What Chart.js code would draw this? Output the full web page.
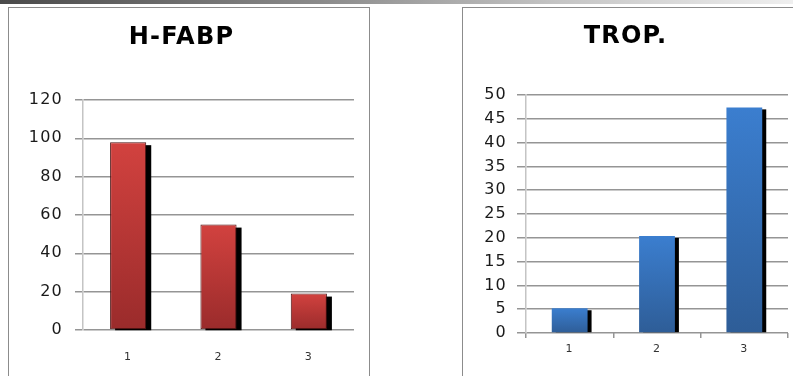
<!DOCTYPE html>
<html>
<head>
<meta charset="utf-8">
<script src="https://cdn.jsdelivr.net/npm/chart.js@4.4.1/dist/chart.umd.min.js"></script>
<style>
  html, body { margin:0; padding:0; background:#fff; width:793px; height:376px; overflow:hidden; position:relative; }
  #topbar { position:absolute; left:0; top:0; width:793px; height:4px;
    background:linear-gradient(to right, #4a4a4a 0%, #8a8a8a 40%, #c4c4c4 70%, #efefef 100%); }
  .box { position:absolute; border:1px solid #8c8c8c; background:#fff; }
  #boxL { left:8px; top:7px; width:360px; height:380px; }
  #boxR { left:462px; top:7px; width:340px; height:380px; }
  .wrap { position:absolute; }
  #wrapL { left:9px; top:8px; width:360px; height:368px; }
  #wrapR { left:463px; top:8px; width:330px; height:368px; }
</style>
</head>
<body>
<div id="topbar"></div>
<div class="box" id="boxL"></div>
<div class="box" id="boxR"></div>
<div class="wrap" id="wrapL"><canvas id="cL" width="360" height="368"></canvas></div>
<div class="wrap" id="wrapR"><canvas id="cR" width="330" height="368"></canvas></div>
<script>
// ---- data ----
const categories = ['1', '2', '3'];
const hfabpValues = [98, 55, 19];
const tropValues = [5.2, 20.4, 47.4];
const hfabpTicks = [0, 20, 40, 60, 80, 100, 120];
const tropTicks = [0, 5, 10, 15, 20, 25, 30, 35, 40, 45, 50];
const titles = ['H-FABP', 'TROP.'];

const FONT = "'DejaVu Sans', 'Liberation Sans', sans-serif";

const shadowPlugin = {
  id: 'barShadow',
  beforeDatasetDraw(chart, args, opts) {
    const ctx = chart.ctx;
    ctx.save();
    ctx.fillStyle = '#000';
    args.meta.data.forEach(el => {
      const p = el.getProps(['x', 'y', 'base', 'width'], true);
      const left = p.x - p.width / 2 + opts.dx;
      const top = p.y + opts.dy;
      ctx.fillRect(left, top, p.width, p.base - top + opts.extra);
    });
    ctx.restore();
  }
};

const spacingPlugin = {
  id: 'spacing',
  beforeLayout(chart, a, opts) { chart.ctx.letterSpacing = opts.ls || '0px'; },
  beforeDraw(chart, a, opts) { chart.ctx.letterSpacing = opts.ls || '0px'; }
};

function gradFill(top, bottom, solid) {
  return (c) => {
    const ch = c.chart;
    const ys = ch.scales && ch.scales.y;
    if (!ys || c.raw == null) return solid;
    const t = ys.getPixelForValue(c.raw);
    const b = ys.getPixelForValue(0);
    if (!isFinite(t) || !isFinite(b) || t === b) return solid;
    const g = ch.ctx.createLinearGradient(0, t, 0, b);
    g.addColorStop(0, top);
    g.addColorStop(1, bottom);
    return g;
  };
}

function makeChart(id, cfg) {
  return new Chart(document.getElementById(id), {
    type: 'bar',
    data: {
      labels: categories,
      datasets: [{
        data: cfg.values,
        backgroundColor: gradFill(cfg.top, cfg.bottom, cfg.top),
        borderColor: cfg.border,
        borderWidth: cfg.borderWidth,
        borderSkipped: false,
        categoryPercentage: 1,
        barPercentage: cfg.barPct
      }]
    },
    options: {
      responsive: false,
      animation: false,
      events: [],
      layout: { padding: { left: 0, right: cfg.padRight, top: 0, bottom: cfg.padBottom } },
      plugins: {
        legend: { display: false },
        tooltip: { enabled: false },
        title: {
          display: true,
          text: cfg.title,
          color: '#000',
          font: { family: FONT, size: 24, weight: 'bold', lineHeight: 1.2 },
          padding: { top: cfg.titleTop, bottom: cfg.titleBottom }
        },
        barShadow: { dx: cfg.sdx, dy: cfg.sdy, extra: cfg.sextra },
        spacing: { ls: '1.2px' }
      },
      scales: {
        x: {
          grid: cfg.xGrid,
          border: { display: false },
          ticks: { color: '#333', padding: cfg.xPad, font: { family: FONT, size: 11 } },
          afterFit(s) { s.height = 40; }
        },
        y: {
          min: cfg.ticks[0],
          max: cfg.ticks[cfg.ticks.length - 1],
          afterBuildTicks(s) { s.ticks = cfg.ticks.map(v => ({ value: v })); },
          ticks: { color: '#1a1a1a', padding: cfg.yPad, font: { family: FONT, size: 16 } },
          grid: { color: '#959595', lineWidth: 1.5, tickLength: cfg.yTick, drawTicks: true },
          border: { color: '#c4c4c4', width: 1.5 },
          afterFit(s) { s.width = cfg.yWidth; }
        }
      }
    },
    plugins: [shadowPlugin, spacingPlugin]
  });
}

makeChart('cL', {
  values: hfabpValues, ticks: hfabpTicks, title: titles[0],
  top: '#d2423f', bottom: '#9a2b2b', border: '#4a1010', borderWidth: 1, barPct: 0.4,
  padRight: 15, padBottom: 6, titleTop: 15.6, titleBottom: 47.6,
  sdx: 5, sdy: 3, sextra: 1,
  xGrid: { display: false }, xPad: 13,
  yPad: 12, yTick: 8, yWidth: 74
});

makeChart('cR', {
  values: tropValues, ticks: tropTicks, title: titles[1],
  top: '#3b7ecf', bottom: '#2e5d97', border: 'rgba(0,0,0,0)', borderWidth: 0, barPct: 0.41,
  padRight: 5, padBottom: 3, titleTop: 14.1, titleBottom: 44.1,
  sdx: 4, sdy: 2, sextra: 0,
  xGrid: { drawOnChartArea: false, drawTicks: true, tickLength: 5, color: '#959595', lineWidth: 1.5, offset: true }, xPad: 5,
  yPad: 10, yTick: 9, yWidth: 63
});
</script>
</body>
</html>
